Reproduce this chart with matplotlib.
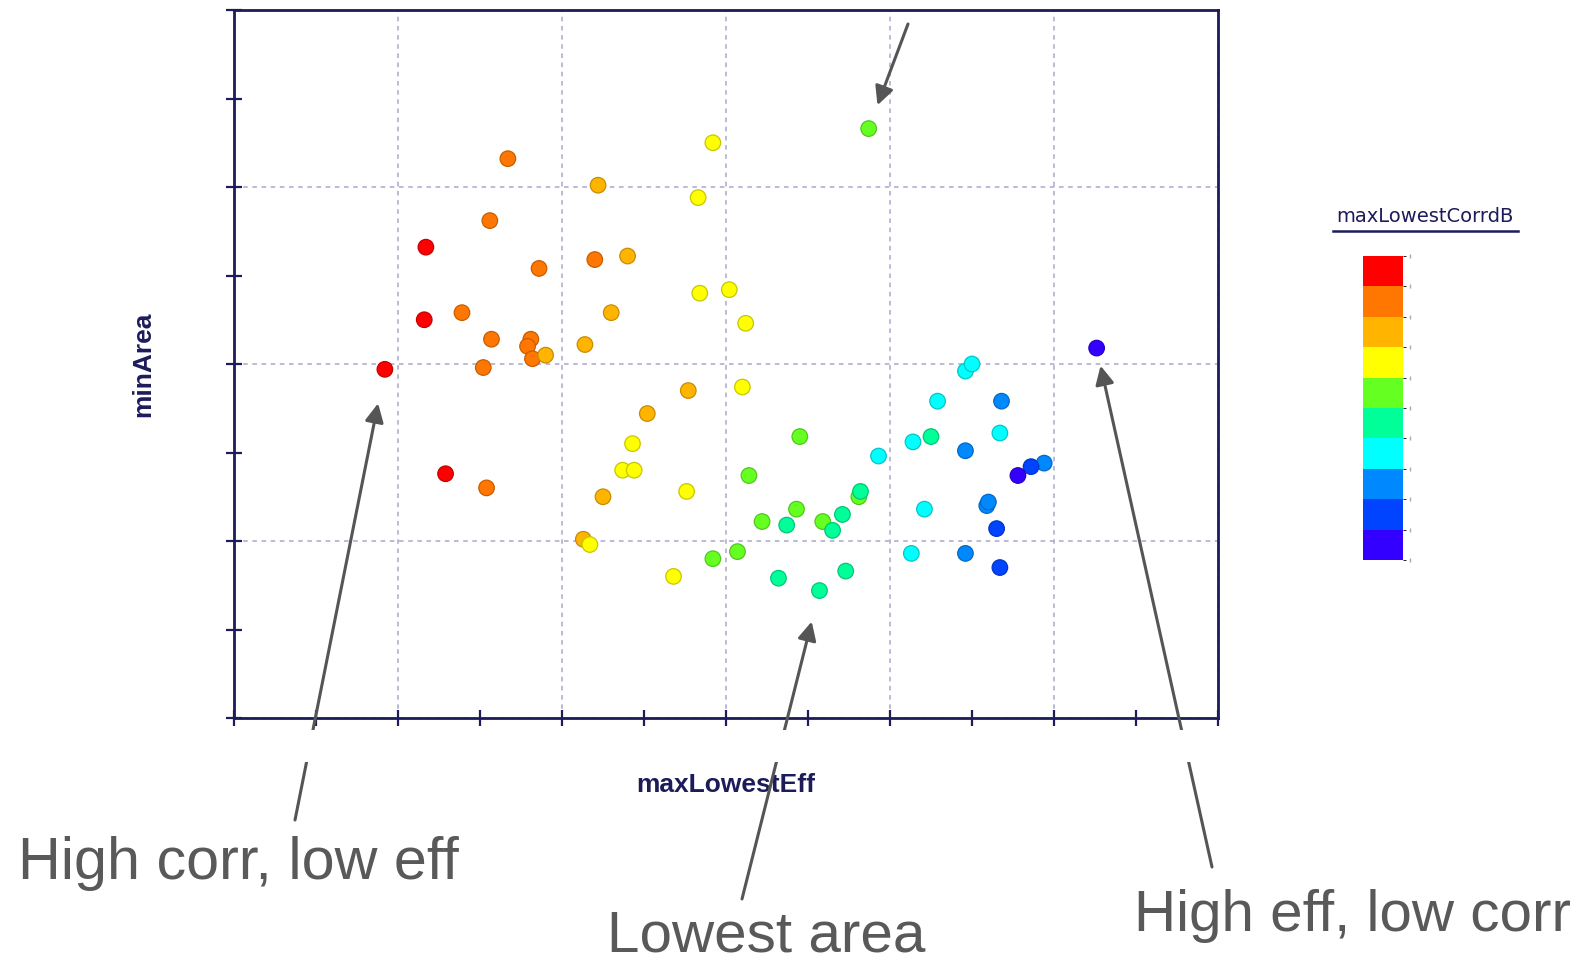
import numpy as np
import matplotlib
matplotlib.use('Agg')
import matplotlib.pyplot as plt
from matplotlib.colors import ListedColormap, BoundaryNorm
from matplotlib.ticker import MultipleLocator
from matplotlib.lines import Line2D
from matplotlib.patches import Rectangle

# colour bands of maxLowestCorrdB, lowest (violet) -> highest (red)
band_colors = ['#3300ff', '#0044ff', '#0088ff', '#00ffff', '#00ff99',
               '#66ff22', '#ffff00', '#ffb400', '#ff7700', '#ff0000']

# one entry per design point (grouped by colour band, red first)
max_lowest_eff = [
    1.17, 1.16, 0.92, 1.29,
    1.67, 1.56, 2.20, 1.86, 1.39, 1.57, 1.81, 1.79, 1.82, 1.52, 1.54,
    2.22, 2.40, 2.30, 1.90, 2.14, 2.52, 2.77, 2.25, 2.13,
    2.92, 2.83, 2.84, 3.02, 3.12, 3.10, 2.43, 2.37, 2.44, 2.76, 2.17, 2.68,
    3.87, 3.45, 3.14, 3.22, 3.43, 3.59, 3.81, 2.92, 3.07,
    3.37, 3.65, 3.71, 3.82, 3.32, 3.57, 3.73, 4.25,
    3.93, 4.14, 4.29, 4.46, 4.50, 4.67, 4.21, 4.13,
    4.68, 4.46, 4.94, 4.59, 4.60, 4.46,
    4.86, 4.65, 4.67,
    4.78, 5.26,
]
min_area = [
    2.66, 2.25, 1.97, 1.38,
    3.16, 2.81, 2.59, 2.54, 2.29, 2.14, 2.14, 2.10, 2.03, 1.98, 1.30,
    3.01, 2.61, 2.29, 2.05, 2.11, 1.72, 1.85, 1.25, 1.01,
    3.25, 2.94, 2.40, 2.42, 2.23, 1.87, 1.55, 1.40, 1.40, 1.28, 0.98, 0.80,
    3.33, 1.59, 1.37, 1.11, 1.18, 1.11, 1.25, 0.90, 0.94,
    1.09, 1.06, 1.15, 1.28, 0.79, 0.72, 0.83, 1.59,
    1.48, 1.56, 1.79, 1.96, 2.00, 1.61, 1.18, 0.93,
    1.79, 1.51, 1.44, 1.20, 1.22, 0.93,
    1.42, 1.07, 0.85,
    1.37, 2.09,
]
corr_band = [
    9, 9, 9, 9,
    8, 8, 8, 8, 8, 8, 8, 8, 8, 8, 8,
    7, 7, 7, 7, 7, 7, 7, 7, 7,
    6, 6, 6, 6, 6, 6, 6, 6, 6, 6, 6, 6,
    5, 5, 5, 5, 5, 5, 5, 5, 5,
    4, 4, 4, 4, 4, 4, 4, 4,
    3, 3, 3, 3, 3, 3, 3, 3,
    2, 2, 2, 2, 2, 2,
    1, 1, 1,
    0, 0,
]

# callouts: text, index of point, arrow tail (px from top-left), text anchor, gap in pt, size
notes = [
    ('High corr, low eff', 2, (295, 820), (18, 879), 25, 42.7),
    ('Lowest area', 50, (742, 899), (607, 952), 23, 42),
    ('High eff, low corr', 71, (1212, 867), (1134, 931), 13, 42),
    ('', 36, (908, 24), None, 18, 42),
]

W, H = 1578, 964
navy = '#1c1c5a'
grey = '#595959'

fig = plt.figure(figsize=(W / 100, H / 100), dpi=100)
ax = fig.add_axes([234 / W, 1 - 718 / H, 984 / W, 708 / H])

cmap = ListedColormap(band_colors)
norm = BoundaryNorm(np.arange(-0.5, 10.5, 1), cmap.N)
face = cmap(norm(np.array(corr_band)))
edge = face.copy()
edge[:, :3] *= 0.78

sc = ax.scatter(max_lowest_eff, min_area, c=corr_band, cmap=cmap, norm=norm,
                s=125, edgecolors=edge, linewidths=0.9, zorder=3)

ax.set_xlim(0, 6)
ax.set_ylim(0, 4)
ax.xaxis.set_major_locator(MultipleLocator(1))
ax.xaxis.set_minor_locator(MultipleLocator(0.5))
ax.yaxis.set_major_locator(MultipleLocator(1))
ax.yaxis.set_minor_locator(MultipleLocator(0.5))
ax.tick_params(which='both', direction='inout', length=11, width=1.6,
               color=navy, labelbottom=False, labelleft=False)
ax.grid(True, which='major', color='#a8a8cc', linestyle=(0, (3, 3)), linewidth=1.1)
for s in ax.spines.values():
    s.set_color(navy)
    s.set_linewidth(2.0)

ax.set_xlabel('maxLowestEff', family='Liberation Sans', weight='bold',
              fontsize=19, color=navy, va='center')
ax.xaxis.set_label_coords(0.5, -(785 - 718) / 708)
ax.set_ylabel('minArea', family='Liberation Sans', weight='bold',
              fontsize=19, color=navy, va='center')
ax.yaxis.set_label_coords(-(234 - 143) / 984, 0.5)

# colour legend
cax = fig.add_axes([1363 / W, 1 - 560 / H, 40 / W, 304 / H])
cb = fig.colorbar(sc, cax=cax)
cb.outline.set_visible(False)
cb.set_ticks([])
cax.plot(np.full(11, 1.18), np.arange(-0.5, 10.5, 1), ls='none', marker='|',
         ms=3, color='#aaaaaa', clip_on=False)
fig.text(1425 / W, 1 - 216 / H, 'maxLowestCorrdB', ha='center', va='center',
         fontsize=14, color=navy, family='DejaVu Sans')
fig.add_artist(Line2D([1333 / W, 1518 / W], [1 - 231 / H, 1 - 231 / H],
                      color=navy, linewidth=1.8))

# callout arrows and texts
for text, i, tail, anchor, gap, size in notes:
    ax.annotate('', xy=(max_lowest_eff[i], min_area[i]), xycoords='data',
                xytext=(tail[0], H - tail[1]), textcoords='figure pixels',
                arrowprops=dict(arrowstyle='-|>', color='#555555', lw=2.2,
                                mutation_scale=28, shrinkA=0, shrinkB=gap),
                annotation_clip=False)
    if text:
        fig.text(anchor[0] / W, 1 - anchor[1] / H, text, ha='left', va='baseline',
                 fontsize=size, color=grey, family='Liberation Sans')

# blank band under the axis that interrupts the arrows
fig.add_artist(Rectangle((0, 1 - 762 / H), 1, 32 / H, transform=fig.transFigure,
                         facecolor='white', edgecolor='none', zorder=1))

fig.savefig('out.png', dpi=100)
